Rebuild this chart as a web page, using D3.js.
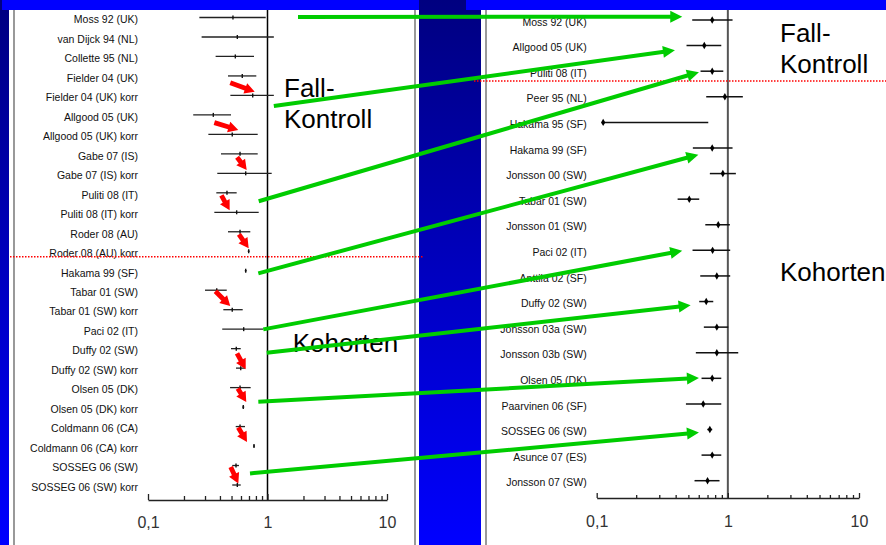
<!DOCTYPE html>
<html>
<head>
<meta charset="utf-8">
<script src="https://cdn.jsdelivr.net/npm/d3@7/dist/d3.min.js"></script>
<style>
  html, body { margin: 0; padding: 0; overflow: hidden; background: #000080; }
  svg { display: block; }
</style>
</head>
<body>
<svg id="chart" width="886" height="545"></svg>
<script>
// ---- Left forest plot: case-control studies with corrected ("korr") estimates, then cohorts
const leftStudies = [
  "Moss 92 (UK)", "van Dijck 94 (NL)", "Collette 95 (NL)", "Fielder 04 (UK)", "Fielder 04 (UK) korr",
  "Allgood 05 (UK)", "Allgood 05 (UK) korr", "Gabe 07 (IS)", "Gabe 07 (IS) korr", "Puliti 08 (IT)",
  "Puliti 08 (IT) korr", "Roder 08 (AU)", "Roder 08 (AU) korr", "Hakama 99 (SF)", "Tabar 01 (SW)",
  "Tabar 01 (SW) korr", "Paci 02 (IT)", "Duffy 02 (SW)", "Duffy 02 (SW) korr", "Olsen 05 (DK)",
  "Olsen 05 (DK) korr", "Coldmann 06 (CA)", "Coldmann 06 (CA) korr", "SOSSEG 06 (SW)", "SOSSEG 06 (SW) korr"
];
const leftEst = [0.514, 0.559, 0.538, 0.615, 0.752, 0.352, 0.507, 0.589, 0.657, 0.458,
                 0.552, 0.589, 0.696, 0.657, 0.376, 0.507, 0.632, 0.548, 0.597, 0.589,
                 0.627, 0.589, 0.771, 0.545, 0.559];
const leftLo  = [0.269, 0.281, 0.368, 0.467, 0.489, 0.239, 0.320, 0.408, 0.380, 0.373,
                 0.359, 0.467, 0.683, 0.645, 0.300, 0.427, 0.418, 0.495, 0.545, 0.486,
                 0.615, 0.542, 0.756, 0.507, 0.507];
const leftHi  = [0.966, 1.130, 0.771, 0.806, 1.130, 0.495, 0.828, 0.828, 1.084, 0.552,
                 0.844, 0.718, 0.709, 0.670, 0.456, 0.620, 0.922, 0.597, 0.648, 0.723,
                 0.639, 0.648, 0.786, 0.577, 0.597];

// ---- Right forest plot: updated estimates
const rightStudies = [
  "Moss 92 (UK)", "Allgood 05 (UK)", "Puliti 08 (IT)", "Peer 95 (NL)", "Hakama 95 (SF)",
  "Hakama 99 (SF)", "Jonsson 00 (SW)", "Tabar 01 (SW)", "Jonsson 01 (SW)", "Paci 02 (IT)",
  "Anttila 02 (SF)", "Duffy 02 (SW)", "Jonsson 03a (SW)", "Jonsson 03b (SW)", "Olsen 05 (DK)",
  "Paarvinen 06 (SF)", "SOSSEG 06 (SW)", "Asunce 07 (ES)", "Jonsson 07 (SW)"
];
const rightEst = [0.760, 0.661, 0.760, 0.949, 0.112, 0.760, 0.916, 0.508, 0.845, 0.765,
                  0.824, 0.684, 0.824, 0.824, 0.760, 0.649, 0.729, 0.760, 0.700];
const rightLo  = [0.535, 0.484, 0.619, 0.684, 0.112, 0.541, 0.729, 0.414, 0.673, 0.538,
                  0.616, 0.605, 0.656, 0.570, 0.630, 0.479, 0.697, 0.630, 0.557];
const rightHi  = [1.086, 0.891, 0.923, 1.301, 0.709, 1.086, 1.151, 0.605, 1.036, 1.042,
                  1.042, 0.774, 1.007, 1.200, 0.891, 0.891, 0.760, 0.891, 0.864];

// ---- Axis
const axisDomain = [0.1, 10];
const majorTicks = [0.1, 1, 10];
const majorTickLabels = ["0,1", "1", "10"];

// ---- Group captions
const caseControlLabel = ["Fall-", "Kontroll"];
const cohortLabel = "Kohorten";

// ---- Which rows the annotation arrows connect
const corrections = [
  { to: "Fielder 04 (UK) korr",  angle: 20, len: 26, dx: 2,  dy: -3.7 },
  { to: "Allgood 05 (UK) korr",  angle: 17, len: 25, dx: 6,  dy: -4.4 },
  { to: "Gabe 07 (IS) korr",     angle: 53, len: 16, dx: 1,  dy: -3.3 },
  { to: "Puliti 08 (IT) korr",   angle: 61, len: 17, dx: -7, dy: -2 },
  { to: "Roder 08 (AU) korr",    angle: 55, len: 17, dx: 0,  dy: -3 },
  { to: "Tabar 01 (SW) korr",    angle: 45, len: 21, dx: -2, dy: -3.6 },
  { to: "Duffy 02 (SW) korr",    angle: 61, len: 18, dx: 5,  dy: 1 },
  { to: "Olsen 05 (DK) korr",    angle: 58, len: 16, dx: 3,  dy: -5 },
  { to: "Coldmann 06 (CA) korr", angle: 59, len: 17, dx: -7, dy: -4 },
  { to: "SOSSEG 06 (SW) korr",   angle: 65, len: 18, dx: 1,  dy: -1.6 }
];
const links = [
  { from: "Moss 92 (UK)",         x0: 1.80,  dy0: -0.5,  to: "Moss 92 (UK)",    x1: 0.449, dy1: -3.3 },
  { from: "Fielder 04 (UK) korr", x0: 1.13,  dy0: 10.6,  to: "Allgood 05 (UK)", x1: 0.395, dy1: 4.6 },
  { from: "Puliti 08 (IT) korr",  x0: 0.844, dy0: -11,   to: "Puliti 08 (IT)",  x1: 0.602, dy1: 1 },
  { from: "Hakama 99 (SF)",       x0: 0.838, dy0: 2.6,   to: "Hakama 99 (SF)",  x1: 0.596, dy1: 6.7 },
  { from: "Paci 02 (IT)",         x0: 0.922, dy0: 0.2,   to: "Paci 02 (IT)",    x1: 0.449, dy1: 0.3 },
  { from: "Duffy 02 (SW)",        x0: 0.985, dy0: 4,     to: "Duffy 02 (SW)",   x1: 0.520, dy1: 3.7 },
  { from: "Olsen 05 (DK) korr",   x0: 0.838, dy0: -5.3,  to: "Olsen 05 (DK)",   x1: 0.602, dy1: -0.4 },
  { from: "SOSSEG 06 (SW) korr",  x0: 0.714, dy0: -11.6, to: "SOSSEG 06 (SW)",  x1: 0.602, dy1: 3 }
];

const W = 886, H = 545;
const FONT = "'Liberation Sans', Arial, Helvetica, sans-serif";
const svg = d3.select("#chart");
const defs = svg.append("defs");

// Slide background: vertical navy-to-blue gradient
const grad = defs.append("linearGradient").attr("id", "bg").attr("x1", 0).attr("y1", 0).attr("x2", 0).attr("y2", 1);
grad.append("stop").attr("offset", "0%").attr("stop-color", "#000080");
grad.append("stop").attr("offset", "100%").attr("stop-color", "#0000ff");
svg.append("rect").attr("width", W).attr("height", H).attr("fill", "url(#bg)");

// Panels
svg.append("rect").attr("x", 9).attr("y", 10).attr("width", 410).attr("height", H - 10).attr("fill", "#fff");
svg.append("rect").attr("x", 481).attr("y", 10).attr("width", W - 481).attr("height", H - 10).attr("fill", "#fff");
[14, 415, 486].forEach(x => {
  svg.append("line").attr("x1", x).attr("x2", x).attr("y1", 10).attr("y2", H)
    .attr("stroke", "#808080").attr("stroke-width", 1.6);
});

// Title band at the top
svg.append("rect").attr("x", 2).attr("y", 0).attr("width", 417).attr("height", 10).attr("fill", "#0000ff");
svg.append("rect").attr("x", 466).attr("y", 0).attr("width", W - 466).attr("height", 10).attr("fill", "#0000ff");

// Scales
const xL = d3.scaleLog().domain(axisDomain).range([148, 387]);
const xR = d3.scaleLog().domain(axisDomain).range([596.7, 859]);
const yL = d3.scalePoint().domain(leftStudies).range([17.5, 485]);
const yR = d3.scalePoint().domain(rightStudies).range([20, 480.7]);

function drawAxis(scale, axisY, minorLen, majorLen, pad) {
  const isMajor = d => majorTicks.some(m => Math.abs(m - d) < 1e-9);
  const axis = d3.axisBottom(scale)
    .tickValues(scale.ticks())
    .tickFormat(d => {
      const i = majorTicks.findIndex(m => Math.abs(m - d) < 1e-9);
      return i >= 0 ? majorTickLabels[i] : "";
    })
    .tickSizeInner(-minorLen).tickSizeOuter(0).tickPadding(pad);
  const g = svg.append("g").attr("transform", `translate(0,${axisY})`).call(axis);
  g.select(".domain").attr("stroke", "#222").attr("stroke-width", 1.5);
  g.selectAll(".tick line").attr("stroke", "#222").attr("stroke-width", 1.3)
    .attr("y2", d => isMajor(d) ? -majorLen : -minorLen);
  g.selectAll(".tick text").attr("font-family", FONT).attr("font-size", 16).attr("fill", "#333");
}

function drawForest(names, est, lo, hi, x, y, opts) {
  // reference line at 1
  svg.append("line").attr("x1", x(1)).attr("x2", x(1)).attr("y1", 10).attr("y2", opts.axisY)
    .attr("stroke", opts.refColor).attr("stroke-width", opts.refWidth);
  drawAxis(x, opts.axisY, opts.minor, opts.major, opts.pad);

  const rows = names.map((n, i) => ({ name: n, est: est[i], lo: lo[i], hi: hi[i] }));
  const g = svg.append("g");
  g.selectAll("text.lbl").data(rows).join("text")
    .attr("class", "lbl")
    .attr("x", opts.labelX).attr("y", d => y(d.name) + opts.labelDy)
    .attr("text-anchor", "end").attr("dominant-baseline", "central")
    .attr("font-family", FONT).attr("font-size", 10.5).attr("fill", "#111")
    .text(d => d.name);
  g.selectAll("line.ci").data(rows).join("line")
    .attr("class", "ci")
    .attr("x1", d => x(d.lo)).attr("x2", d => x(d.hi))
    .attr("y1", d => y(d.name)).attr("y2", d => y(d.name))
    .attr("stroke", opts.ciColor).attr("stroke-width", opts.ciWidth);
  if (opts.marker === "tick") {
    g.selectAll("line.est").data(rows).join("line")
      .attr("class", "est")
      .attr("x1", d => x(d.est)).attr("x2", d => x(d.est))
      .attr("y1", d => y(d.name) - 2).attr("y2", d => y(d.name) + 2)
      .attr("stroke", "#111").attr("stroke-width", 1.4);
  } else {
    g.selectAll("path.est").data(rows).join("path")
      .attr("class", "est")
      .attr("transform", d => `translate(${x(d.est)},${y(d.name)})`)
      .attr("d", d3.symbol().type(d3.symbolDiamond).size(16))
      .attr("fill", "#000");
  }
}

drawForest(leftStudies, leftEst, leftLo, leftHi, xL, yL, {
  axisY: 500, refColor: "#000", refWidth: 1.5, minor: 4, major: 6, pad: 16.3,
  labelX: 138, labelDy: 1.8, ciColor: "#222", ciWidth: 1.3, marker: "tick"
});
drawForest(rightStudies, rightEst, rightLo, rightHi, xR, yR, {
  axisY: 498, refColor: "#555", refWidth: 2, minor: 3, major: 5, pad: 17.3,
  labelX: 586.7, labelDy: 1.7, ciColor: "#111", ciWidth: 1.5, marker: "diamond"
});

// Dotted separators between case-control and cohort studies
const sepL = (yL("Roder 08 (AU) korr") + yL("Hakama 99 (SF)")) / 2 - 4.3;
const sepR = (yR("Puliti 08 (IT)") + yR("Peer 95 (NL)")) / 2 - 3;
svg.append("line").attr("x1", 10).attr("x2", 424).attr("y1", sepL).attr("y2", sepL)
  .attr("stroke", "#ff0000").attr("stroke-width", 1.5).attr("stroke-dasharray", "1.5 1.5");
svg.append("line").attr("x1", 474).attr("x2", W).attr("y1", sepR).attr("y2", sepR)
  .attr("stroke", "#ff0000").attr("stroke-width", 1.5).attr("stroke-dasharray", "1.5 1.5");

// Group captions
function caption(x, y, lines) {
  const t = svg.append("text").attr("font-family", FONT).attr("font-size", 26).attr("fill", "#000");
  lines.forEach((s, i) => t.append("tspan").attr("x", x).attr("y", y + i * 31.5).text(s));
}
caption(284, 96.7, caseControlLabel);
caption(780, 41.7, caseControlLabel);
caption(292.7, 351.7, [cohortLabel]);
caption(780, 280.7, [cohortLabel]);

// Red block arrows: original estimate -> corrected estimate
function blockArrow(tx, ty, angleDeg, len, shaftHW, headLen, headHW) {
  const a = angleDeg * Math.PI / 180;
  const ux = Math.cos(a), uy = Math.sin(a);   // direction toward tip
  const px = -uy, py = ux;                    // perpendicular
  const bx = tx - ux * headLen, by = ty - uy * headLen;   // head base centre
  const sx = tx - ux * len, sy = ty - uy * len;           // tail centre
  const pts = [
    [sx + px * shaftHW, sy + py * shaftHW],
    [bx + px * shaftHW, by + py * shaftHW],
    [bx + px * headHW, by + py * headHW],
    [tx, ty],
    [bx - px * headHW, by - py * headHW],
    [bx - px * shaftHW, by - py * shaftHW],
    [sx - px * shaftHW, sy - py * shaftHW]
  ];
  return "M" + pts.map(p => p.join(",")).join("L") + "Z";
}
const estByName = new Map(leftStudies.map((n, i) => [n, leftEst[i]]));
svg.append("g").selectAll("path").data(corrections).join("path")
  .attr("d", d => blockArrow(xL(estByName.get(d.to)) + d.dx, yL(d.to) + d.dy, d.angle, d.len, 2.4, 10, 5.5))
  .attr("fill", "#ff0000");

// Green arrows linking each study to its updated estimate
const lg = svg.append("g");
links.forEach(d => {
  const x0 = xL(d.x0), y0 = yL(d.from) + d.dy0;
  const tx = xR(d.x1), ty = yR(d.to) + d.dy1;
  const ang = Math.atan2(ty - y0, tx - x0);
  const headLen = 12, headHW = 6;
  const bx = tx - Math.cos(ang) * headLen, by = ty - Math.sin(ang) * headLen;
  lg.append("line").attr("x1", x0).attr("y1", y0).attr("x2", bx + Math.cos(ang)).attr("y2", by + Math.sin(ang))
    .attr("stroke", "#00cc00").attr("stroke-width", 4);
  const px = -Math.sin(ang), py = Math.cos(ang);
  lg.append("path")
    .attr("d", `M${tx},${ty}L${bx + px * headHW},${by + py * headHW}L${bx - px * headHW},${by - py * headHW}Z`)
    .attr("fill", "#00cc00");
});
</script>
</body>
</html>
